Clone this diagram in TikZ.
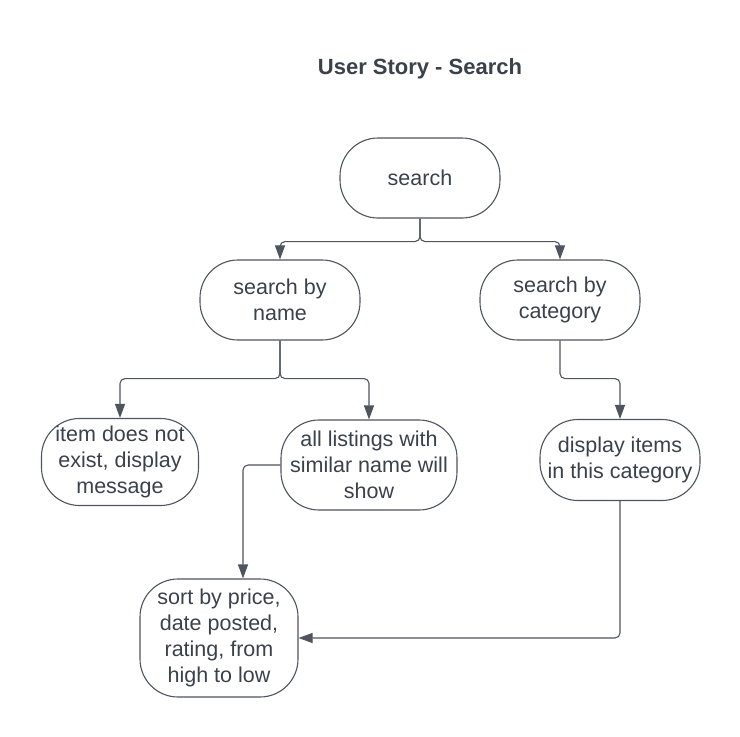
\documentclass[tikz,border=0pt]{standalone}
\usepackage{fontspec}
\setmainfont{Liberation Sans}
\usepackage{xcolor}
\usetikzlibrary{arrows.meta, positioning}

\definecolor{inkgrey}{HTML}{3A414A}
\definecolor{linegrey}{HTML}{4E555E}

\begin{document}
\begin{tikzpicture}[
    x=1pt, y=-1pt,
    story/.style={
        rectangle, rounded corners=38pt,
        draw=linegrey, line width=1.1pt,
        inner sep=0pt,
        text centered, align=center,
        text=inkgrey,
        font=\fontsize{21.5}{26}\selectfont
    },
    arrow/.style={-{Triangle[length=14pt, width=10pt]}, draw=linegrey,
        line width=1.1pt, rounded corners=5pt},
]
\useasboundingbox (0,0) rectangle (740,737);

% Titolo
\node[font=\fontsize{22}{26}\selectfont\bfseries, text=inkgrey] (title) at (420, 69) {User Story - Search};

% Posizioni
\node[story, minimum width=160pt, minimum height=80pt]  (search)   at (420, 178) {search};
\node[story, minimum width=160pt, minimum height=80pt]  (byname)   at (280, 300) {search by\\name};
\node[story, minimum width=160pt, minimum height=80pt]  (bycat)    at (560, 300) {search by\\category};
\node[story, minimum width=157pt, minimum height=87pt]  (notexist) at (120, 462) {item does not\\exist, display\\message};
\node[story, minimum width=176pt, minimum height=90pt]  (listings) at (369, 465) {all listings with\\similar name will\\show};
\node[story, minimum width=160pt, minimum height=81pt]  (display)  at (620, 460) {display items\\in this category};
\node[story, minimum width=158pt, minimum height=118pt] (sort)     at (219, 638) {sort by price,\\date posted,\\rating, from\\high to low};

% search -> search by name / search by category
\draw[arrow] (search.south) -- ++(0,23) -| (byname.north);
\draw[arrow] (search.south) -- ++(0,23) -| (bycat.north);

% search by name -> item does not exist / all listings
\draw[arrow] (byname.south) -- ++(0,38) -| (notexist.north);
\draw[arrow] (byname.south) -- ++(0,38) -| (listings.north);

% search by category -> display items
\draw[arrow] (bycat.south) -- ++(0,38) -| (display.north);

% all listings -> sort
\draw[arrow] (listings.west) -| ([xshift=24pt]sort.north);

% display items -> sort
\draw[arrow] (display.south) |- (sort.east);

\end{tikzpicture}
\end{document}
